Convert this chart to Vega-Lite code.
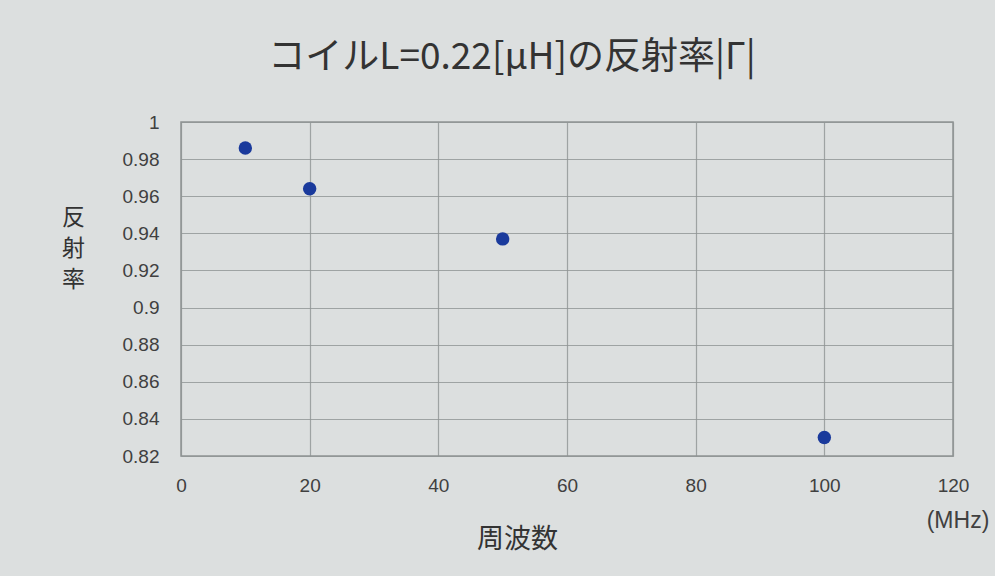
{
  "$schema": "https://vega.github.io/schema/vega-lite/v6.json",
  "width": 772,
  "height": 334,
  "autosize": {"type": "none"},
  "padding": {"left": 181, "top": 122, "right": 42, "bottom": 120},
  "background": "#dcdfdf",
  "title": {
    "text": "コイルL=0.22[μH]の反射率|Γ|",
    "font": "Noto Sans CJK JP",
    "fontSize": 37,
    "fontWeight": "normal",
    "color": "#333333",
    "dx": -55,
    "offset": 36
  },
  "config": {
    "view": {"stroke": "#8f9494", "strokeWidth": 1.5},
    "axis": {
      "labelFont": "Liberation Sans",
      "labelFontSize": 19,
      "labelColor": "#404040",
      "titleFont": "Noto Sans CJK JP",
      "titleFontWeight": "normal",
      "titleColor": "#333333",
      "gridColor": "#8f9494",
      "gridOpacity": 0.8,
      "gridWidth": 1.2,
      "domain": false,
      "ticks": false
    }
  },
  "encoding": {
    "x": {
      "field": "freq",
      "type": "quantitative",
      "scale": {"domain": [0, 120], "nice": false},
      "axis": {
        "values": [0, 20, 40, 60, 80, 100, 120],
        "labelPadding": 20,
        "labelFlush": false,
        "title": "周波数",
        "titleFontSize": 27,
        "titleX": 336,
        "titleY": 70,
        "titleBaseline": "top"
      }
    },
    "y": {
      "field": "gamma",
      "type": "quantitative",
      "scale": {"domain": [0.82, 1.0], "nice": false, "zero": false},
      "axis": {
        "values": [0.82, 0.84, 0.86, 0.88, 0.9, 0.92, 0.94, 0.96, 0.98, 1.0],
        "format": "~g",
        "labelPadding": 22,
        "title": ["反", "射", "率"],
        "titleFontSize": 23,
        "titleAngle": 0,
        "titleAlign": "center",
        "titleBaseline": "top",
        "titleX": -108,
        "titleY": 84,
        "titleLineHeight": 31
      }
    }
  },
  "layer": [
    {
      "data": {
        "values": [
          {"freq": 10, "gamma": 0.986},
          {"freq": 20, "gamma": 0.964},
          {"freq": 50, "gamma": 0.937},
          {"freq": 100, "gamma": 0.83}
        ]
      },
      "mark": {"type": "point", "filled": true, "size": 180, "color": "#1a3a9c", "opacity": 1}
    },
    {
      "data": {"values": [{"freq": 120, "gamma": 0.82, "unit": "(MHz)"}]},
      "mark": {
        "type": "text",
        "font": "Liberation Sans",
        "fontSize": 23,
        "color": "#404040",
        "align": "center",
        "baseline": "middle",
        "dx": 5,
        "dy": 65
      },
      "encoding": {"text": {"field": "unit"}}
    }
  ]
}
